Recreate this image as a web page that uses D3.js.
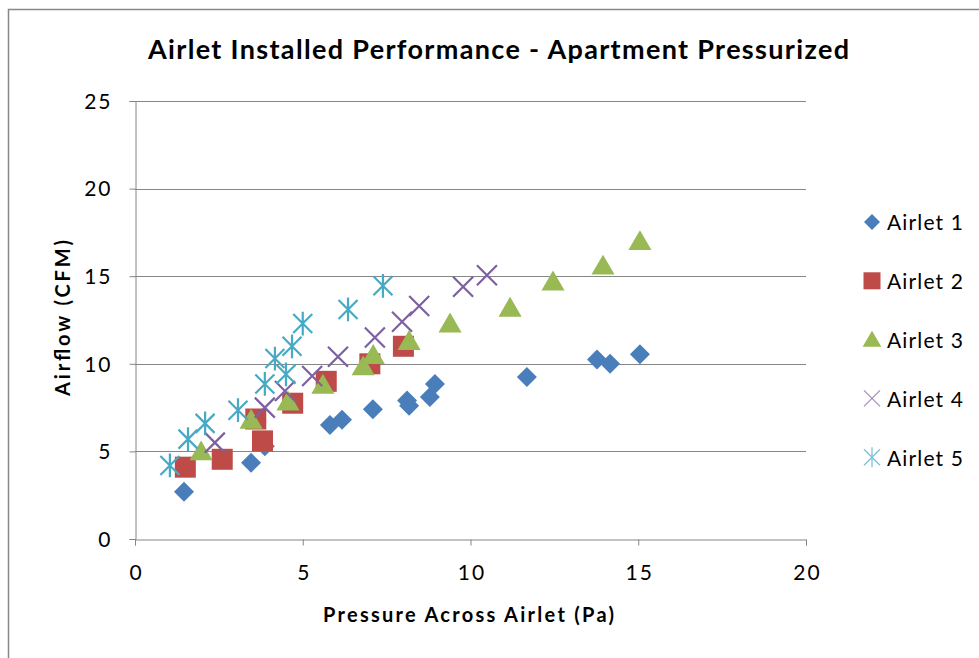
<!DOCTYPE html>
<html>
<head>
<meta charset="utf-8">
<script src="https://d3js.org/d3.v7.min.js"></script>
<style>
  body { margin: 0; background: #fff; }
  text { font-family: Lato, "Open Sans", sans-serif; fill: #000; }
</style>
</head>
<body>
<div id="chart"></div>
<script>
// values: [pressure (Pa), airflow (CFM)]
var airlet1 = [[1.46,2.7],[3.46,4.35],[3.87,5.3],[5.81,6.5],[6.17,6.8],[7.09,7.4],[8.11,7.9],[8.17,7.6],[8.79,8.1],[8.94,8.85],[11.68,9.25],[13.77,10.25],[14.16,10.0],[15.05,10.55]];
var airlet2 = [[1.5,4.1],[2.6,4.55],[3.6,6.85],[3.8,5.6],[4.7,7.75],[5.7,9.0],[7.0,10.0],[8.0,11.0]];
var airlet3 = [[1.97,5.0],[3.46,6.8],[4.56,7.85],[5.6,8.8],[6.8,9.85],[7.1,10.5],[8.17,11.3],[9.39,12.3],[11.18,13.2],[12.46,14.7],[13.95,15.6],[15.05,17.0]];
var airlet4 = [[2.38,5.5],[3.87,7.5],[4.47,8.45],[5.28,9.3],[6.05,10.4],[7.15,11.5],[7.96,12.4],[8.47,13.3],[9.78,14.4],[10.49,15.05]];
var airlet5 = [[1.04,4.2],[1.58,5.7],[2.09,6.6],[3.07,7.35],[3.87,8.85],[4.17,10.3],[4.5,9.4],[4.68,11.0],[5.0,12.3],[6.35,13.1],[7.39,14.45]];

var seriesNames = ["Airlet 1", "Airlet 2", "Airlet 3", "Airlet 4", "Airlet 5"];
var xTicks = [0, 5, 10, 15, 20];
var yTicks = [0, 5, 10, 15, 20, 25];

var series = [
  {name: seriesNames[0], data: airlet1, color: "#4a7ebb", shape: "diamond"},
  {name: seriesNames[1], data: airlet2, color: "#be4b48", shape: "square"},
  {name: seriesNames[2], data: airlet3, color: "#98b954", shape: "triangle"},
  {name: seriesNames[3], data: airlet4, color: "#7d60a0", shape: "x"},
  {name: seriesNames[4], data: airlet5, color: "#46aac5", shape: "star"}
];

var width = 979, height = 658;
var svg = d3.select("#chart").append("svg")
  .attr("width", width)
  .attr("height", height);

// chart frame
svg.append("rect")
  .attr("x", 8.5).attr("y", 9.5)
  .attr("width", 990).attr("height", 700)
  .attr("fill", "none")
  .attr("stroke", "#888")
  .attr("stroke-width", 1.5);

var x = d3.scaleLinear().domain([0, 20]).range([135, 806]);
var y = d3.scaleLinear().domain([0, 25]).range([539, 101]);

// gridlines
svg.append("g")
  .selectAll("line")
  .data(yTicks.filter(d => d > 0))
  .join("line")
  .attr("x1", x(0)).attr("x2", x(20))
  .attr("y1", d => Math.round(y(d)) + 0.5)
  .attr("y2", d => Math.round(y(d)) + 0.5)
  .attr("stroke", "#868686")
  .attr("stroke-width", 1);

// axes
var xAxis = svg.append("g")
  .attr("transform", "translate(0," + (Math.round(y(0)) + 0.5) + ")")
  .call(d3.axisBottom(x).tickValues(xTicks).tickSize(6).tickPadding(19));
var yAxis = svg.append("g")
  .attr("transform", "translate(" + (Math.round(x(0)) + 0.5) + ",0)")
  .call(d3.axisLeft(y).tickValues(yTicks).tickSize(6).tickPadding(17));

[xAxis, yAxis].forEach(function(a) {
  a.select(".domain").attr("stroke", "#868686");
  a.selectAll(".tick line").attr("stroke", "#868686");
  a.selectAll(".tick text")
    .style("font-size", "21px")
    .style("font-family", "Lato, sans-serif")
    .style("letter-spacing", "2px")
    .attr("fill", "#000");
});
xAxis.selectAll(".tick text").attr("dy", "0.75em").attr("dx", "1px");
yAxis.selectAll(".tick text").attr("dy", "0.35em").attr("text-anchor", "end");

// titles
svg.append("text")
  .attr("x", 498.5).attr("y", 59)
  .attr("text-anchor", "middle")
  .attr("textLength", 701)
  .attr("lengthAdjust", "spacing")
  .style("font-size", "27px")
  .style("font-weight", "bold")
  .text("Airlet Installed Performance - Apartment Pressurized");

svg.append("text")
  .attr("x", 468.5).attr("y", 622)
  .attr("text-anchor", "middle")
  .attr("textLength", 291)
  .attr("lengthAdjust", "spacing")
  .style("font-size", "20px")
  .style("font-weight", "bold")
  .text("Pressure Across Airlet (Pa)");

svg.append("text")
  .attr("transform", "translate(70,318) rotate(-90)")
  .attr("text-anchor", "middle")
  .attr("textLength", 156)
  .attr("lengthAdjust", "spacing")
  .style("font-size", "20px")
  .style("font-weight", "bold")
  .text("Airflow (CFM)");

// marker drawing
function drawMarker(g, shape, color, s) {
  if (shape === "diamond") {
    g.append("path")
      .attr("d", "M0," + (-s) + "L" + s + ",0L0," + s + "L" + (-s) + ",0Z")
      .attr("fill", color);
  } else if (shape === "square") {
    g.append("rect")
      .attr("x", -s).attr("y", -s)
      .attr("width", 2 * s).attr("height", 2 * s)
      .attr("fill", color);
  } else if (shape === "triangle") {
    g.append("path")
      .attr("d", "M0," + (-s * 1.05) + "L" + (s * 1.1) + "," + (s * 0.85) + "L" + (-s * 1.1) + "," + (s * 0.85) + "Z")
      .attr("fill", color);
  } else if (shape === "x") {
    g.append("path")
      .attr("d", "M" + (-s) + "," + (-s) + "L" + s + "," + s + "M" + s + "," + (-s) + "L" + (-s) + "," + s)
      .attr("stroke", color).attr("stroke-width", 2.2).attr("fill", "none");
  } else if (shape === "star") {
    g.append("path")
      .attr("d", "M" + (-s) + "," + (-s) + "L" + s + "," + s + "M" + s + "," + (-s) + "L" + (-s) + "," + s +
                 "M0," + (-s * 1.25) + "L0," + (s * 1.25))
      .attr("stroke", color).attr("stroke-width", 2.2).attr("fill", "none");
  }
}

var sizes = {diamond: 10, square: 10.5, triangle: 10.5, x: 10, star: 9.5};

series.forEach(function(sr) {
  var g = svg.append("g");
  sr.data.forEach(function(d) {
    var m = g.append("g")
      .attr("transform", "translate(" + x(d[0]) + "," + y(d[1]) + ")");
    drawMarker(m, sr.shape, sr.color, sizes[sr.shape]);
  });
});

// legend
var legend = svg.append("g")
  .selectAll("g")
  .data(series)
  .join("g")
  .attr("transform", (d, i) => "translate(872," + (222 + i * 58.8) + ")");

legend.each(function(d) {
  var g = d3.select(this);
  var m = g.append("g");
  var ls = {diamond: 8, square: 8.5, triangle: 8.5, x: 8, star: 8}[d.shape];
  drawMarker(m, d.shape, d.color, ls);
  if (d.shape === "x" || d.shape === "star") m.selectAll("path").attr("stroke-width", 1.3).attr("stroke-opacity", 0.7);
  g.append("text")
    .attr("x", 15).attr("y", 1)
    .attr("dy", "0.35em")
    .attr("textLength", 76)
    .attr("lengthAdjust", "spacing")
    .style("font-size", "21px")
    .text(d.name);
});
</script>
</body>
</html>
